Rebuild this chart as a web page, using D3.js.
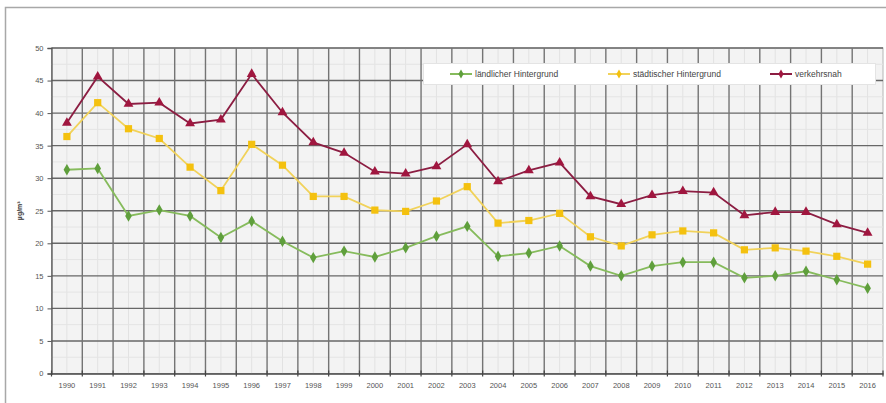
<!DOCTYPE html>
<html>
<head>
<meta charset="utf-8">
<script src="https://cdn.jsdelivr.net/npm/d3@7"></script>
<style>
  body { margin: 0; background: #fff; }
  text { font-family: "Liberation Sans", Arial, sans-serif; }
</style>
</head>
<body>
<div id="chart"></div>
<script>
// Jahresmittelwerte in µg/m³
var years = [1990, 1991, 1992, 1993, 1994, 1995, 1996, 1997, 1998, 1999, 2000, 2001, 2002,
             2003, 2004, 2005, 2006, 2007, 2008, 2009, 2010, 2011, 2012, 2013, 2014, 2015, 2016];
var laendlich  = [31.3, 31.5, 24.2, 25.1, 24.2, 20.9, 23.4, 20.3, 17.8, 18.8, 17.9, 19.3, 21.1,
                  22.6, 18.0, 18.5, 19.6, 16.5, 15.0, 16.5, 17.1, 17.1, 14.7, 15.0, 15.7, 14.4, 13.1];
var staedtisch = [36.4, 41.6, 37.6, 36.1, 31.7, 28.1, 35.2, 32.0, 27.2, 27.2, 25.1, 24.9, 26.5,
                  28.7, 23.1, 23.5, 24.6, 21.0, 19.6, 21.3, 21.9, 21.6, 19.0, 19.3, 18.8, 18.0, 16.8];
var verkehr    = [38.5, 45.6, 41.4, 41.6, 38.4, 39.0, 46.0, 40.1, 35.5, 33.9, 31.0, 30.7, 31.8,
                  35.2, 29.5, 31.2, 32.4, 27.2, 26.0, 27.4, 28.0, 27.8, 24.3, 24.8, 24.8, 22.9, 21.6];
var seriesNames = ["ländlicher Hintergrund", "städtischer Hintergrund", "verkehrsnah"];
var yTicks = [0, 5, 10, 15, 20, 25, 30, 35, 40, 45, 50];
var yLabel = "µg/m³";

var W = 886, H = 403;
var plot = {left: 51.5, right: 883, top: 48, bottom: 373.5};

var svg = d3.select("#chart").append("svg")
    .attr("width", W)
    .attr("height", H);

// outer frame
svg.append("rect")
    .attr("x", 5.5).attr("y", 7.5)
    .attr("width", 900).attr("height", 420)
    .attr("fill", "#fff")
    .attr("stroke", "#a8a8a8")
    .attr("stroke-width", 1.5);

var x = d3.scaleBand().domain(years).range([plot.left, plot.right]).padding(0);
var y = d3.scaleLinear().domain([0, 50]).range([plot.bottom, plot.top]);
var xc = function(d) { return x(d) + x.bandwidth() / 2; };

// plot background
svg.append("rect")
    .attr("x", plot.left).attr("y", plot.top)
    .attr("width", plot.right - plot.left).attr("height", plot.bottom - plot.top)
    .attr("fill", "#f3f3f3")
    .attr("stroke", "#b5b5b5");

// minor grid (faint)
svg.append("g")
    .selectAll("line")
    .data(years)
    .enter().append("line")
    .attr("x1", d => xc(d)).attr("x2", d => xc(d))
    .attr("y1", plot.top).attr("y2", plot.bottom)
    .style("stroke", "#e2e2e2").style("stroke-width", 1);

svg.append("g")
    .selectAll("line")
    .data(d3.range(2.5, 50, 5))
    .enter().append("line")
    .attr("x1", plot.left).attr("x2", plot.right)
    .attr("y1", d => y(d)).attr("y2", d => y(d))
    .style("stroke", "#e4e4e4").style("stroke-width", 1);

// major grid
svg.append("g")
    .selectAll("line")
    .data(yTicks.slice(1))
    .enter().append("line")
    .attr("x1", plot.left).attr("x2", plot.right)
    .attr("y1", d => y(d)).attr("y2", d => y(d))
    .style("stroke", "#676767").style("stroke-width", 1.4);

svg.append("g")
    .selectAll("line")
    .data(years.slice(1))
    .enter().append("line")
    .attr("x1", d => x(d)).attr("x2", d => x(d))
    .attr("y1", plot.top).attr("y2", plot.bottom)
    .style("stroke", "#747474").style("stroke-width", 1.4);

// y axis
svg.append("g")
    .attr("transform", "translate(" + plot.left + ",0)")
    .call(d3.axisLeft(y).tickValues(yTicks).tickSize(4).tickPadding(4))
    .call(g => g.select(".domain").attr("stroke", "#555").attr("stroke-width", 1.3))
    .call(g => g.selectAll(".tick line").attr("stroke", "#555"))
    .call(g => g.selectAll("text").attr("font-size", "7.5px").attr("fill", "#555"));

// x axis: labels centred, ticks between categories
svg.append("g")
    .attr("transform", "translate(0," + plot.bottom + ")")
    .call(d3.axisBottom(x).tickSize(0).tickPadding(9))
    .call(g => g.select(".domain").attr("stroke", "#444").attr("stroke-width", 1.5))
    .call(g => g.selectAll("text").attr("font-size", "7.5px").attr("fill", "#555"));

svg.append("g")
    .selectAll("line")
    .data(years.concat(["end"]))
    .enter().append("line")
    .attr("x1", d => d === "end" ? plot.right : x(d))
    .attr("x2", d => d === "end" ? plot.right : x(d))
    .attr("y1", plot.bottom - 3).attr("y2", plot.bottom + 3)
    .style("stroke", "#444").style("stroke-width", 1.2);

// y axis title
svg.append("text")
    .attr("transform", "translate(22," + y(25) + ") rotate(-90)")
    .attr("text-anchor", "middle")
    .attr("font-size", "7px")
    .attr("font-weight", "bold")
    .attr("fill", "#333")
    .text(yLabel);

// series
var series = [
  {name: seriesNames[0], values: laendlich,  line: "#86bb5c", fill: "#5f9f3c", symbol: d3.symbolDiamond,  size: 38},
  {name: seriesNames[1], values: staedtisch, line: "#f1d25a", fill: "#f4c10f", symbol: d3.symbolSquare,   size: 52},
  {name: seriesNames[2], values: verkehr,    line: "#8c1d42", fill: "#a0163f", symbol: d3.symbolTriangle, size: 42}
];

var line = d3.line()
    .x(function(d, i) { return xc(years[i]); })
    .y(function(d) { return y(d); });

series.forEach(function(s) {
  svg.append("path")
      .datum(s.values)
      .attr("fill", "none")
      .attr("stroke", s.line)
      .attr("stroke-width", 1.8)
      .attr("d", line);

  svg.append("g")
      .selectAll("path")
      .data(s.values)
      .enter().append("path")
      .attr("d", d3.symbol().type(s.symbol).size(s.size))
      .attr("transform", function(d, i) { return "translate(" + xc(years[i]) + "," + y(d) + ")"; })
      .attr("fill", s.fill);
});

// legend
var legend = svg.append("g");
legend.append("rect")
    .attr("x", 423.5).attr("y", 63.5)
    .attr("width", 452).attr("height", 21)
    .attr("fill", "#fff")
    .attr("stroke", "#e4e4e4");

var legendX = [450, 608, 770];
series.forEach(function(s, i) {
  var g = legend.append("g").attr("transform", "translate(" + legendX[i] + ",74)");
  g.append("line")
      .attr("x1", 0).attr("x2", 22)
      .attr("stroke", s.line).attr("stroke-width", 2);
  g.append("path")
      .attr("d", d3.symbol().type(d3.symbolDiamond).size(24))
      .attr("transform", "translate(11,0)")
      .attr("fill", s.fill);
  g.append("text")
      .attr("x", 25).attr("y", 3)
      .attr("font-size", "8.5px")
      .attr("fill", "#444")
      .text(s.name);
});
</script>
</body>
</html>
